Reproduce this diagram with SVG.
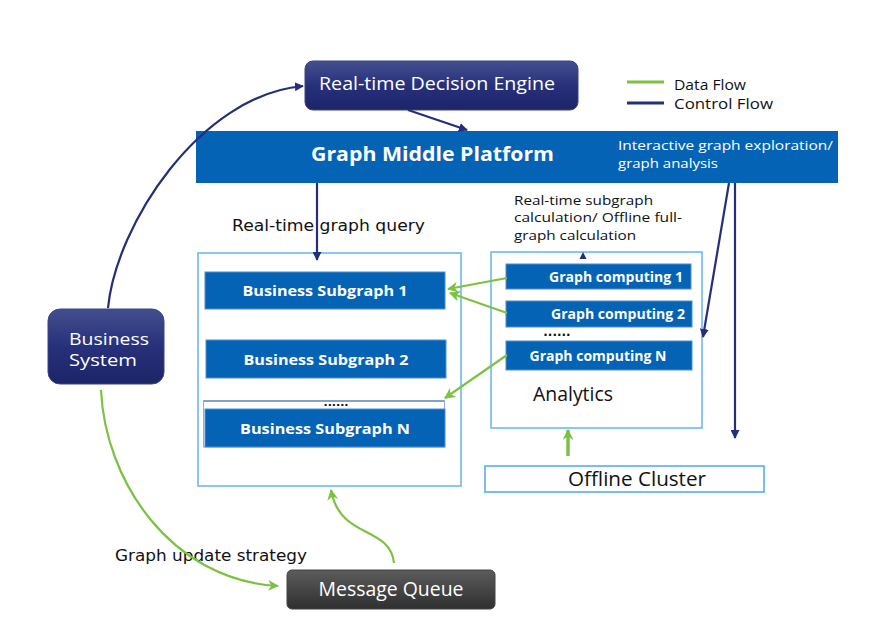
<svg xmlns="http://www.w3.org/2000/svg" width="871" height="635" viewBox="0 0 871 635">
<defs>
<linearGradient id="navyGrad" x1="0" y1="0" x2="0" y2="1">
<stop offset="0" stop-color="#444f8e"/>
<stop offset="0.5" stop-color="#27307a"/>
<stop offset="1" stop-color="#1d2568"/>
</linearGradient>
<linearGradient id="grayGrad" x1="0" y1="0" x2="0" y2="1">
<stop offset="0" stop-color="#5c5c5c"/>
<stop offset="1" stop-color="#2f2f2f"/>
</linearGradient>
<marker id="arrNavy" viewBox="0 0 10 10" refX="9" refY="5" markerWidth="9" markerHeight="9" markerUnits="userSpaceOnUse" orient="auto">
<path d="M0,0 L10,5 L0,10 z" fill="#252e78"/>
</marker>
<marker id="arrGreen" viewBox="0 0 10 10" refX="9" refY="5" markerWidth="11" markerHeight="11" markerUnits="userSpaceOnUse" orient="auto">
<path d="M0,0 L10,5 L0,10 L3,5 z" fill="#7cc242"/>
</marker>
<style>
.navy{stroke:#252e78;stroke-width:2.2;fill:none}
.green{stroke:#7cc242;stroke-width:2.2;fill:none}
.blue{fill:#0563b5}
.sub{fill:#0563b5;stroke:#4d8fd0;stroke-width:1}
.wb{font-family:"Open Sans","Noto Sans",sans-serif;font-weight:bold;fill:#fff}
.w{font-family:"Open Sans","Noto Sans",sans-serif;fill:#fff}
.k{font-family:"Open Sans","Noto Sans",sans-serif;fill:#111}
.mono{font-family:"DejaVu Sans",sans-serif;fill:#111}
.frame{fill:#fff;stroke:#66b3f5;stroke-width:1.5}
</style>
</defs>
<rect width="871" height="635" fill="#fff"/>

<g id="legend">
<line x1="627" y1="82" x2="664" y2="82" stroke="#7cc242" stroke-width="3"/>
<text class="k" x="674" y="90" font-size="15" textLength="72" lengthAdjust="spacingAndGlyphs">Data Flow</text>
<line x1="627" y1="103" x2="664" y2="103" stroke="#252e78" stroke-width="3"/>
<text class="k" x="674" y="109" font-size="15" textLength="99" lengthAdjust="spacingAndGlyphs">Control Flow</text>
</g>

<g id="decision-engine">
<rect x="305" y="61" width="273" height="49" rx="8" fill="url(#navyGrad)" stroke="#3a4488" stroke-width="1"/>
<text class="w" x="319" y="90" font-size="19" textLength="236" lengthAdjust="spacingAndGlyphs">Real-time Decision Engine</text>
</g>

<g id="graph-middle-platform">
<rect x="196" y="131" width="642" height="52" class="blue"/>
<text class="wb" x="311" y="161" font-size="20" textLength="243" lengthAdjust="spacingAndGlyphs">Graph Middle Platform</text>
<text class="w" x="618" y="150" font-size="13.5" textLength="215" lengthAdjust="spacingAndGlyphs">Interactive graph exploration/</text>
<text class="w" x="618" y="168" font-size="13.5" textLength="100" lengthAdjust="spacingAndGlyphs">graph analysis</text>
</g>

<g id="business-system">
<rect x="48" y="309" width="116" height="75" rx="12" fill="url(#navyGrad)" stroke="#3a4488" stroke-width="1"/>
<text class="w" x="69" y="345" font-size="17" textLength="80" lengthAdjust="spacingAndGlyphs">Business</text>
<text class="w" x="69" y="366" font-size="17" textLength="68" lengthAdjust="spacingAndGlyphs">System</text>
</g>

<g id="subgraph-container">
<rect x="198" y="253" width="263" height="233" class="frame"/>
<text class="mono" x="232" y="231" font-size="15" textLength="193" lengthAdjust="spacingAndGlyphs">Real-time graph query</text>
</g>
<g id="business-subgraph-1">
<rect x="205" y="272" width="240" height="37" class="sub"/>
<text class="wb" x="325" y="296" font-size="15" text-anchor="middle" textLength="165" lengthAdjust="spacingAndGlyphs">Business Subgraph 1</text>
</g>
<g id="business-subgraph-2">
<rect x="206" y="340" width="240" height="38" class="sub"/>
<text class="wb" x="326" y="365" font-size="15" text-anchor="middle" textLength="165" lengthAdjust="spacingAndGlyphs">Business Subgraph 2</text>
</g>
<g id="business-subgraph-n">
<rect x="203.5" y="401" width="241" height="46" fill="#fff" stroke="#9aaccc" stroke-width="1"/>
<line x1="203.5" y1="401" x2="444.5" y2="401" stroke="#6f8fba" stroke-width="1.5"/>
<text x="336" y="406" font-family="DejaVu Sans,sans-serif" font-size="11" font-weight="bold" fill="#111" text-anchor="middle">......</text>
<rect x="205" y="409" width="240" height="38" class="sub"/>
<text class="wb" x="325" y="434" font-size="15" text-anchor="middle" textLength="170" lengthAdjust="spacingAndGlyphs">Business Subgraph N</text>
</g>

<g id="analytics">
<text class="k" x="514" y="205" font-size="12.5" textLength="139" lengthAdjust="spacingAndGlyphs">Real-time subgraph</text>
<text class="k" x="514" y="222" font-size="12.5" textLength="168" lengthAdjust="spacingAndGlyphs">calculation/ Offline full-</text>
<text class="k" x="514" y="240" font-size="12.5" textLength="122" lengthAdjust="spacingAndGlyphs">graph calculation</text>
<rect x="491" y="252" width="211" height="176" class="frame"/>
<text class="k" x="533" y="401" font-size="20" textLength="80" lengthAdjust="spacingAndGlyphs">Analytics</text>
</g>
<g id="graph-computing-1">
<rect x="506" y="264" width="185" height="25" class="sub"/>
<text class="wb" x="616" y="282" font-size="13.5" text-anchor="middle" textLength="134" lengthAdjust="spacingAndGlyphs">Graph computing 1</text>
</g>
<g id="graph-computing-2">
<rect x="506" y="301" width="186" height="26" class="sub"/>
<text class="wb" x="618" y="319" font-size="13.5" text-anchor="middle" textLength="134" lengthAdjust="spacingAndGlyphs">Graph computing 2</text>
<text x="557" y="336" font-family="DejaVu Sans,sans-serif" font-size="12" font-weight="bold" fill="#111" text-anchor="middle">......</text>
</g>
<g id="graph-computing-n">
<rect x="506" y="341" width="186" height="29" class="sub"/>
<text class="wb" x="598" y="361" font-size="13.5" text-anchor="middle" textLength="137" lengthAdjust="spacingAndGlyphs">Graph computing N</text>
</g>

<g id="offline-cluster">
<rect x="485" y="466" width="279" height="26" fill="#fff" stroke="#4da6f5" stroke-width="1.5"/>
<text class="k" x="637" y="486" font-size="20" text-anchor="middle" textLength="138" lengthAdjust="spacingAndGlyphs">Offline Cluster</text>
</g>

<g id="message-queue">
<rect x="287" y="570" width="208" height="39" rx="5" fill="url(#grayGrad)" stroke="#444" stroke-width="1"/>
<text class="w" x="391" y="596" font-size="20" text-anchor="middle" textLength="145" lengthAdjust="spacingAndGlyphs">Message Queue</text>
<text class="mono" x="115" y="561" font-size="15" textLength="192" lengthAdjust="spacingAndGlyphs">Graph update strategy</text>
</g>

<g id="connectors">
<path class="navy" d="M108,308 C116,225 200,95 303,86" marker-end="url(#arrNavy)"/>
<line class="navy" x1="408" y1="110" x2="467" y2="130" marker-end="url(#arrNavy)"/>
<line class="navy" x1="317" y1="183" x2="317" y2="260" marker-end="url(#arrNavy)"/>
<line class="navy" x1="729" y1="183" x2="703" y2="337" marker-end="url(#arrNavy)"/>
<line class="navy" x1="735" y1="183" x2="735" y2="438" marker-end="url(#arrNavy)"/>
<path d="M583,252 L579.5,259 L586.5,259 z" fill="#252e78"/>
<line class="green" x1="507" y1="278" x2="448" y2="289" marker-end="url(#arrGreen)"/>
<line class="green" x1="507" y1="313" x2="450" y2="293" marker-end="url(#arrGreen)"/>
<line class="green" x1="507" y1="355" x2="445" y2="398" marker-end="url(#arrGreen)"/>
<line x1="568" y1="456" x2="568" y2="430" stroke="#7cc242" stroke-width="3.5" marker-end="url(#arrGreen)"/>
<path class="green" d="M101,390 C105,480 170,580 278,586" marker-end="url(#arrGreen)"/>
<path class="green" d="M394,563 C390,525 340,540 331,490" marker-end="url(#arrGreen)"/>
</g>
</svg>
